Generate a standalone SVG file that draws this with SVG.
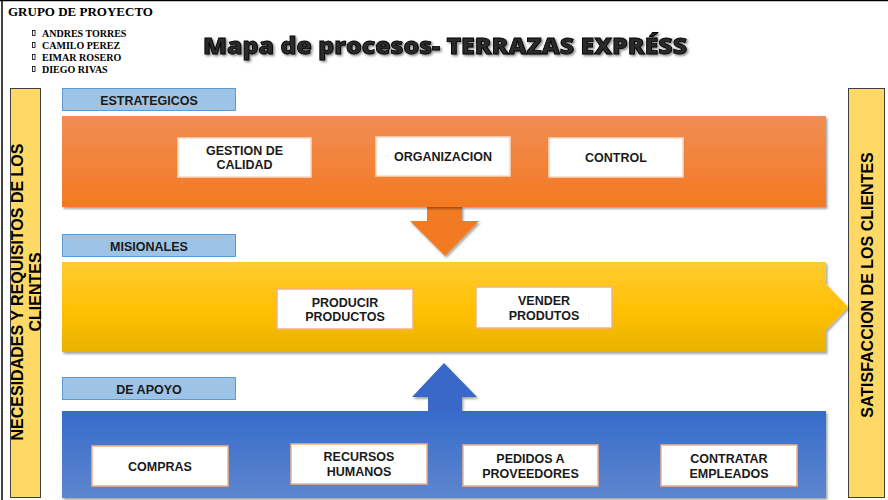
<svg xmlns="http://www.w3.org/2000/svg" width="888" height="500" viewBox="0 0 888 500">
<defs>
<linearGradient id="gOr" x1="0" y1="0" x2="0" y2="1"><stop offset="0" stop-color="#F08E55"/><stop offset="1" stop-color="#F47920"/></linearGradient>
<linearGradient id="gYe" x1="0" y1="0" x2="0" y2="1"><stop offset="0" stop-color="#FFCB33"/><stop offset="0.55" stop-color="#FFC000"/><stop offset="1" stop-color="#E8B200"/></linearGradient>
<linearGradient id="gBl" x1="0" y1="0" x2="0" y2="1"><stop offset="0" stop-color="#366BCB"/><stop offset="1" stop-color="#5E86CE"/></linearGradient>
<filter id="sh" x="-5%" y="-10%" width="110%" height="130%"><feDropShadow dx="1.5" dy="2" stdDeviation="1.2" flood-color="#000" flood-opacity="0.35"/></filter>
<filter id="tsh" x="-5%" y="-30%" width="110%" height="160%"><feDropShadow dx="1.5" dy="1.5" stdDeviation="0.8" flood-color="#000" flood-opacity="0.5"/></filter>
</defs>
<style>
.ser{font-family:"Liberation Serif","Times New Roman",serif;font-weight:bold;fill:#000}
.lbl{fill:#9DC3E6;stroke:#5B9BD5;stroke-width:1}
.lt{font-family:"Liberation Sans",Arial,sans-serif;font-weight:bold;font-size:12.5px;fill:#1a1a1a;text-anchor:middle}
.bx{fill:#fff;stroke:#F4B183;stroke-width:1.5}
.bxo{fill:#fff;stroke:#FBD9C2;stroke-width:1.5}
.bt{font-family:"Liberation Sans",Arial,sans-serif;font-weight:bold;font-size:12.5px;fill:#1a1a1a;text-anchor:middle}
.bar{fill:#FFD966;stroke:#404040;stroke-width:1}
.vt{font-family:"Liberation Sans",Arial,sans-serif;font-weight:bold;font-size:16px;fill:#000;text-anchor:middle}
.bul{fill:none;stroke:#000;stroke-width:0.8}
</style>
<rect x="0" y="0" width="888" height="500" fill="#fff"/>
<line x1="0" y1="0.5" x2="888" y2="0.5" stroke="#000" stroke-width="1.5"/>
<line x1="2" y1="0" x2="2" y2="500" stroke="#000" stroke-width="1.5"/>

<g id="header">
<text class="ser" x="8" y="16" font-size="13">GRUPO DE PROYECTO</text>
<rect class="bul" x="32.5" y="30.5" width="2.5" height="5"/>
<rect class="bul" x="32.5" y="42.5" width="2.5" height="5"/>
<rect class="bul" x="32.5" y="54.5" width="2.5" height="5"/>
<rect class="bul" x="32.5" y="66.5" width="2.5" height="5"/>
<text class="ser" x="42" y="37" font-size="10">ANDRES TORRES</text>
<text class="ser" x="42" y="49" font-size="10">CAMILO PEREZ</text>
<text class="ser" x="42" y="61" font-size="10">EIMAR ROSERO</text>
<text class="ser" x="42" y="73" font-size="10">DIEGO RIVAS</text>
<text x="445" y="54" font-family="'Open Sans',Lato,sans-serif" font-weight="800" font-size="22" fill="#2a2a2a" stroke="#000" stroke-width="0.8" text-anchor="middle" textLength="484" lengthAdjust="spacingAndGlyphs" filter="url(#tsh)">Mapa de procesos- TERRAZAS EXPRÉSS</text>
</g>

<g id="left-bar">
<rect class="bar" x="10.5" y="88.5" width="30" height="409"/>
<text class="vt" transform="translate(25.5,292) rotate(-90)"><tspan x="0" y="-3">NECESIDADES Y REQUISITOS DE LOS</tspan><tspan x="0" y="15">CLIENTES</tspan></text>
</g>
<g id="right-bar">
<rect class="bar" x="848.5" y="88.5" width="36" height="409"/>
<text class="vt" transform="translate(866.5,285) rotate(-90)" y="6">SATISFACCION DE LOS CLIENTES</text>
</g>

<g id="connectors">
<path d="M427,206 H462 V221 H479 L445,256 L410,221 H427 Z" fill="#F27A24" filter="url(#sh)"/>
<path d="M428,412 V397 H412 L444,363 L477,397 H462 V412 Z" fill="#3769C9" filter="url(#sh)"/>
</g>

<g id="estrategicos">
<rect class="lbl" x="62.5" y="88.5" width="173" height="22"/>
<text class="lt" x="149" y="105">ESTRATEGICOS</text>
<rect x="62" y="116" width="764" height="91" fill="url(#gOr)" filter="url(#sh)"/>
</g>
<g id="gestion-calidad"><rect class="bxo" x="178" y="138" width="133" height="39"/><text class="bt" x="244.5" y="155">GESTION DE</text><text class="bt" x="244.5" y="169">CALIDAD</text></g>
<g id="organizacion"><rect class="bxo" x="376" y="137" width="134" height="39"/><text class="bt" x="443" y="161">ORGANIZACION</text></g>
<g id="control"><rect class="bxo" x="549" y="138" width="134" height="39"/><text class="bt" x="616" y="162">CONTROL</text></g>

<g id="misionales">
<rect class="lbl" x="62.5" y="234.5" width="173" height="22"/>
<text class="lt" x="149" y="250.5">MISIONALES</text>
<path d="M62,262 H826 V284 L848,307 L826,330 V352 H62 Z" fill="url(#gYe)" filter="url(#sh)"/>
</g>
<g id="producir"><rect class="bx" x="277" y="289" width="136" height="40"/><text class="bt" x="345" y="306.5">PRODUCIR</text><text class="bt" x="345" y="321">PRODUCTOS</text></g>
<g id="vender"><rect class="bx" x="476" y="287" width="136" height="41"/><text class="bt" x="544" y="305">VENDER</text><text class="bt" x="544" y="319.5">PRODUTOS</text></g>

<g id="apoyo">
<rect class="lbl" x="62.5" y="377.5" width="173" height="22"/>
<text class="lt" x="149" y="393.5">DE APOYO</text>
<rect x="62" y="411" width="764" height="87" fill="url(#gBl)" filter="url(#sh)"/>
</g>
<g id="compras"><rect class="bx" x="92" y="446" width="136" height="40"/><text class="bt" x="160" y="470.5">COMPRAS</text></g>
<g id="recursos"><rect class="bx" x="291" y="444" width="136" height="40"/><text class="bt" x="359" y="461">RECURSOS</text><text class="bt" x="359" y="475.5">HUMANOS</text></g>
<g id="pedidos"><rect class="bx" x="463" y="445" width="135" height="41"/><text class="bt" x="530.5" y="463">PEDIDOS A</text><text class="bt" x="530.5" y="477.5">PROVEEDORES</text></g>
<g id="contratar"><rect class="bx" x="661" y="445" width="136" height="41"/><text class="bt" x="729" y="463">CONTRATAR</text><text class="bt" x="729" y="477.5">EMPLEADOS</text></g>
</svg>
